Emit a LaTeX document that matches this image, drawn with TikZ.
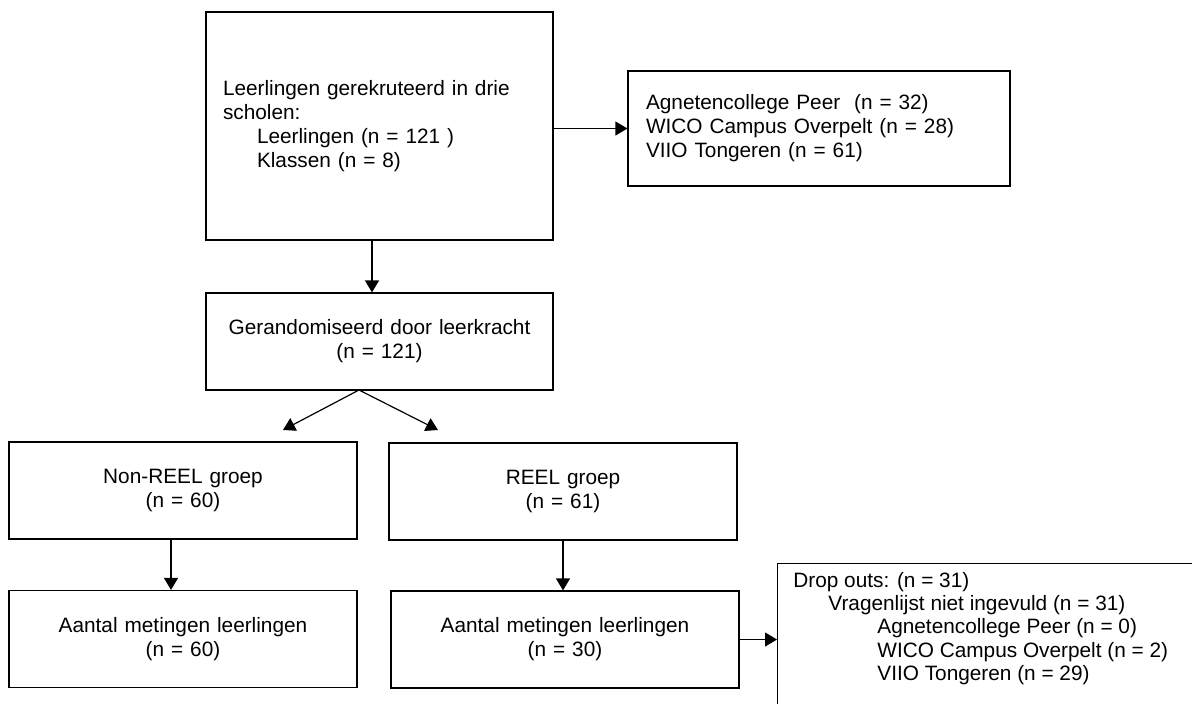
\documentclass[tikz,border=0pt]{standalone}
\usepackage{fontspec}
\setmainfont{Liberation Sans}
\usetikzlibrary{arrows.meta}

\newcommand{\pad}[1]{\hspace*{#1}}

\tikzset{
  box/.style={draw, line width=0.6pt, inner sep=0pt, align=center, text width=174pt, minimum height=48.5pt},
  leftbox/.style={draw, line width=0.6pt, inner xsep=0pt, align=left},
  arr/.style={-{Triangle[length=6pt,width=7pt]}, line width=0.6pt}
}

\begin{document}
\begin{tikzpicture}[x=0.5pt, y=-0.5pt, font=\fontsize{10.4}{12}\selectfont]
  \useasboundingbox (0,0) rectangle (1192,703);
  \clip (0,0) rectangle (1192,703);

  \node[leftbox, text width=173.5pt, minimum height=114pt] (recruit) at (379.5,126)
    {\pad{8.5pt}Leerlingen gerekruteerd in drie\\\pad{8.5pt}scholen:\\\pad{25.5pt}Leerlingen (n = 121 )\\\pad{25.5pt}Klassen (n = 8)};
  \node[leftbox, text width=191pt, minimum height=57.5pt] (schools) at (819,128.5)
    {\pad{9pt}Agnetencollege Peer\ \ (n = 32)\\\pad{9pt}WICO Campus Overpelt (n = 28)\\\pad{9pt}VIIO Tongeren (n = 61)};
  \node[box, text width=173.5pt] (random) at (379.5,341.5) {Gerandomiseerd door leerkracht\\(n = 121)};
  \node[box] (nonreel) at (183,490.5) {Non-REEL groep\\(n = 60)};
  \node[box] (reel) at (563,491.5) {REEL groep\\(n = 61)};
  \node[box] (measA) at (183,639) {Aantal metingen leerlingen\\(n = 60)};
  \node[box] (measB) at (565,639.5) {Aantal metingen leerlingen\\(n = 30)};
  \node[draw, line width=0.6pt, anchor=north west, minimum width=230pt, minimum height=85pt] (dropout) at (777,563) {};
  \node[anchor=north west, inner sep=0pt, align=left, font=\fontsize{10.4}{11.6}\selectfont] (droptext) at (793,572)
    {Drop outs: (n = 31)\\\pad{17.5pt}Vragenlijst niet ingevuld (n = 31)\\\pad{42pt}Agnetencollege Peer (n = 0)\\\pad{42pt}WICO Campus Overpelt (n = 2)\\\pad{42pt}VIIO Tongeren (n = 29)};

  \coordinate (split) at (359,390);
  \coordinate (toNon) at (283,430);
  \coordinate (toReel) at (438,430);

  \draw[arr] ([xshift=-3.75pt]recruit.south) -- ([xshift=-3.75pt]random.north);
  \draw[arr] (recruit.east |- schools.west) -- (schools.west);
  \draw[arr] (split) -- (toNon);
  \draw[arr] (split) -- (toReel);
  \draw[arr] ([xshift=-6pt]nonreel.south) -- ([xshift=-6pt]measA.north);
  \draw[arr] (reel.south) -- (reel.south |- measB.north);
  \draw[arr] (measB.east) -- (measB.east -| dropout.west);
\end{tikzpicture}
\end{document}
